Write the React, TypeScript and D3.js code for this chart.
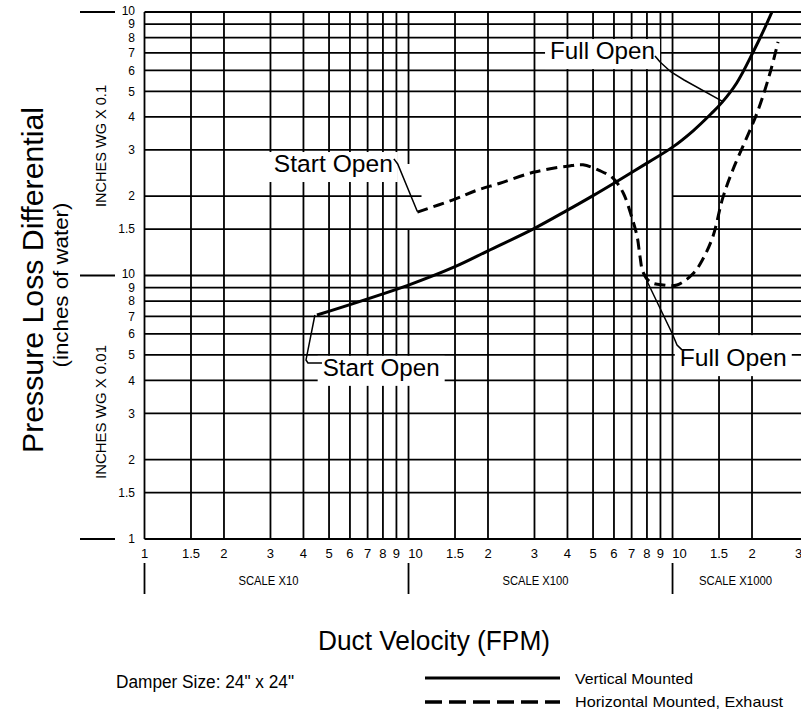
import React from 'react';
import * as d3 from 'd3';

// ---- data ----
const xGridValues = [10, 15, 20, 30, 40, 50, 60, 70, 80, 90, 100, 150, 200, 300, 400, 500, 600, 700, 800, 900, 1000, 1500, 2000];
const xTickValues = [10, 15, 20, 30, 40, 50, 60, 70, 80, 90, 100, 150, 200, 300, 400, 500, 600, 700, 800, 900, 1000, 1500, 2000, 3000];
const xTickLabels = ['1', '1.5', '2', '3', '4', '5', '6', '7', '8', '9', '10', '1.5', '2', '3', '4', '5', '6', '7', '8', '9', '10', '1.5', '2', '3'];
const yTickValues = [0.01, 0.015, 0.02, 0.03, 0.04, 0.05, 0.06, 0.07, 0.08, 0.09, 0.1, 0.15, 0.2, 0.3, 0.4, 0.5, 0.6, 0.7, 0.8, 0.9, 1];
const yTickLabels = ['1', '1.5', '2', '3', '4', '5', '6', '7', '8', '9', '10', '1.5', '2', '3', '4', '5', '6', '7', '8', '9', '10'];
const decadeStarts = [10, 100, 1000];
const decadeNames = ['SCALE X10', 'SCALE X100', 'SCALE X1000'];
const decadeEnds = [100, 1000, 3000];
const yDecadeMarks = [0.01, 0.1, 1];

// Vertical Mounted (solid): FPM, inches of water
const vertFpm = [45, 100, 150, 200, 300, 400, 500, 600, 800, 1000, 1200, 1400, 1540, 1750, 2020, 2200, 2400];
const vertIn = [0.0708, 0.092, 0.108, 0.124, 0.151, 0.177, 0.201, 0.224, 0.267, 0.307, 0.355, 0.411, 0.454, 0.538, 0.705, 0.84, 1.02];

// Horizontal Mounted, Exhaust (dashed)
const horFpm = [108, 150, 180, 222, 300, 400, 458, 530, 595, 650, 700, 735, 753, 773, 822, 920, 1040, 1200, 1300, 1420, 1550, 1690, 2090, 2340, 2510];
const horIn = [0.174, 0.195, 0.21, 0.224, 0.247, 0.26, 0.263, 0.25, 0.234, 0.206, 0.167, 0.14, 0.118, 0.103, 0.0945, 0.092, 0.092, 0.102, 0.115, 0.14, 0.197, 0.251, 0.414, 0.587, 0.77];

// annotations (data coordinates)
const annoLabels = ['Full Open', 'Start Open', 'Start Open', 'Full Open'];
const annoTextPos: [number, number][] = [[343.6, 0.663], [30.9, 0.247], [47.3, 0.0416], [1065, 0.0453]];
const annoTextLen = [105, 119, 117, 107];
const annoBoxTop = [20, 20, 20, 31];
const annoLeaders: [number, number][][] = [
  [[858, 0.681], [897, 0.646], [987, 0.592], [1106, 0.552], [1540, 0.459]],
  [[88, 0.277], [91, 0.265], [108, 0.175]],
  [[44.2, 0.0708], [40.9, 0.0478], [41.6, 0.0466], [47.0, 0.0466]],
  [[800, 0.0953], [995, 0.0605], [1040, 0.0545], [1086, 0.0522]],
];

const FONT = 'Liberation Sans, Arial, Helvetica, sans-serif';

export default function App() {
  const x = d3.scaleLog().domain([10, 3000]).range([144.5, 798.5]);
  const y = d3.scaleLog().domain([0.01, 1]).range([539, 12]);
  const [xl, xr] = [x(10), 801];
  const [yt, yb] = [y(1), y(0.01)];

  const line = d3
    .line<[number, number]>()
    .x((d) => x(d[0]))
    .y((d) => y(d[1]))
    .curve(d3.curveCatmullRom.alpha(0.5));
  const straight = d3
    .line<[number, number]>()
    .x((d) => x(d[0]))
    .y((d) => y(d[1]));

  const vertData = vertFpm.map((v, i) => [v, vertIn[i]] as [number, number]);
  const horData = horFpm.map((v, i) => [v, horIn[i]] as [number, number]);

  return (
    <svg width={801} height={715} style={{ position: 'absolute', left: 0, top: 0, background: '#fff' }} fontFamily={FONT}>
      <defs>
        <clipPath id="plotClip">
          <rect x={xl - 2} y={yt - 1} width={xr - xl + 4} height={yb - yt + 2} />
        </clipPath>
      </defs>
      <rect x={0} y={0} width={801} height={715} fill="#fff" />

      {/* grid */}
      <g stroke="#000" strokeWidth={1.8} fill="none">
        {xGridValues.map((v, i) =>
          v === 100 ? (
            <g key={'vx' + i}>
              <line x1={x(v)} x2={x(v)} y1={yt} y2={y(0.265)} />
              <line x1={x(v)} x2={x(v)} y1={y(0.15)} y2={yb} />
            </g>
          ) : (
            <line key={'vx' + i} x1={x(v)} x2={x(v)} y1={yt} y2={yb} />
          )
        )}
        {yTickValues.map((v, i) =>
          Math.abs(v - 0.2) < 1e-9 ? (
            <g key={'hy' + i}>
              <line x1={xl} x2={x(112)} y1={y(v)} y2={y(v)} />
              <line x1={x(1000)} x2={xr} y1={y(v)} y2={y(v)} />
            </g>
          ) : (
            <line key={'hy' + i} x1={xl} x2={xr} y1={y(v)} y2={y(v)} />
          )
        )}
        {yDecadeMarks.map((v, i) => (
          <line key={'dm' + i} x1={80} x2={115} y1={y(v)} y2={y(v)} />
        ))}
        {decadeStarts.map((v, i) => (
          <line key={'ds' + i} x1={x(v)} x2={x(v)} y1={563} y2={594} />
        ))}
      </g>

      {/* y tick labels */}
      <g fontSize={12} textAnchor="end" fill="#000">
        {yTickValues.map((v, i) => (
          <text key={'yt' + i} x={135} y={y(v) - (yTickLabels[i] === '10' ? 1.5 : 0)} dy="0.36em">
            {yTickLabels[i]}
          </text>
        ))}
      </g>

      {/* x tick labels */}
      <g fontSize={13} textAnchor="middle" fill="#000">
        {xTickValues.map((v, i) => (
          <text key={'xt' + i} x={x(v) + (xTickLabels[i] === '10' ? 7 : 0)} y={558}>
            {xTickLabels[i]}
          </text>
        ))}
      </g>

      {/* decade scale names */}
      <g fontSize={12.5} textAnchor="middle" fill="#000">
        {decadeStarts.map((v, i) => {
          const cx = (x(v) + Math.min(x(decadeEnds[i]), 801)) / 2 - (i === 0 ? 8 : i === 1 ? 5 : 0);
          const len = [60, 66, 73][i];
          return (
            <text key={'dn' + i} x={cx} y={585} textLength={len} lengthAdjust="spacingAndGlyphs">
              {decadeNames[i]}
            </text>
          );
        })}
      </g>

      {/* axis titles */}
      <text transform="translate(43,280) rotate(-90)" textAnchor="middle" fontSize={30} textLength={346} lengthAdjust="spacingAndGlyphs">
        Pressure Loss Differential
      </text>
      <text transform="translate(68,285) rotate(-90)" textAnchor="middle" fontSize={20} textLength={165} lengthAdjust="spacingAndGlyphs">
        (inches of water)
      </text>
      <text transform="translate(106,207) rotate(-90)" textAnchor="start" fontSize={14} textLength={122} lengthAdjust="spacingAndGlyphs">
        INCHES WG X 0.1
      </text>
      <text transform="translate(106,479) rotate(-90)" textAnchor="start" fontSize={14} textLength={134} lengthAdjust="spacingAndGlyphs">
        INCHES WG X 0.01
      </text>
      <text x={434} y={650} textAnchor="middle" fontSize={27} textLength={232} lengthAdjust="spacingAndGlyphs">
        Duct Velocity (FPM)
      </text>

      {/* annotation label boxes */}
      {annoLabels.map((t, i) => {
        const tx = x(annoTextPos[i][0]);
        const ty = y(annoTextPos[i][1]);
        return (
          <rect
            key={'ab' + i}
            x={tx - 5}
            y={ty - annoBoxTop[i]}
            width={annoTextLen[i] + 10}
            height={annoBoxTop[i] + 10}
            fill="#fff"
          />
        );
      })}

      {/* curves */}
      <g clipPath="url(#plotClip)" fill="none" stroke="#000">
        <path d={line(vertData) || ''} strokeWidth={3} />
        <path d={line(horData) || ''} strokeWidth={3} strokeDasharray="11,6" />
      </g>

      {/* annotation leaders and texts */}
      <g fill="none" stroke="#000" strokeWidth={1.5}>
        {annoLeaders.map((pts, i) => (
          <path key={'al' + i} d={straight(pts) || ''} />
        ))}
      </g>
      <g fontSize={24.5} fill="#000">
        {annoLabels.map((t, i) => (
          <text
            key={'at' + i}
            x={x(annoTextPos[i][0])}
            y={y(annoTextPos[i][1])}
            textLength={annoTextLen[i]}
            lengthAdjust="spacingAndGlyphs"
          >
            {t}
          </text>
        ))}
      </g>

      {/* legend */}
      <text x={116} y={688} fontSize={17.5} textLength={178} lengthAdjust="spacingAndGlyphs">
        Damper Size: 24" x 24"
      </text>
      <line x1={425} x2={560} y1={678} y2={678} stroke="#000" strokeWidth={3} />
      <text x={575} y={684} fontSize={15} textLength={118} lengthAdjust="spacingAndGlyphs">
        Vertical Mounted
      </text>
      <line x1={425} x2={560} y1={702} y2={702} stroke="#000" strokeWidth={3.5} strokeDasharray="17,7" />
      <text x={575} y={707} fontSize={15} textLength={208} lengthAdjust="spacingAndGlyphs">
        Horizontal Mounted, Exhaust
      </text>
    </svg>
  );
}
